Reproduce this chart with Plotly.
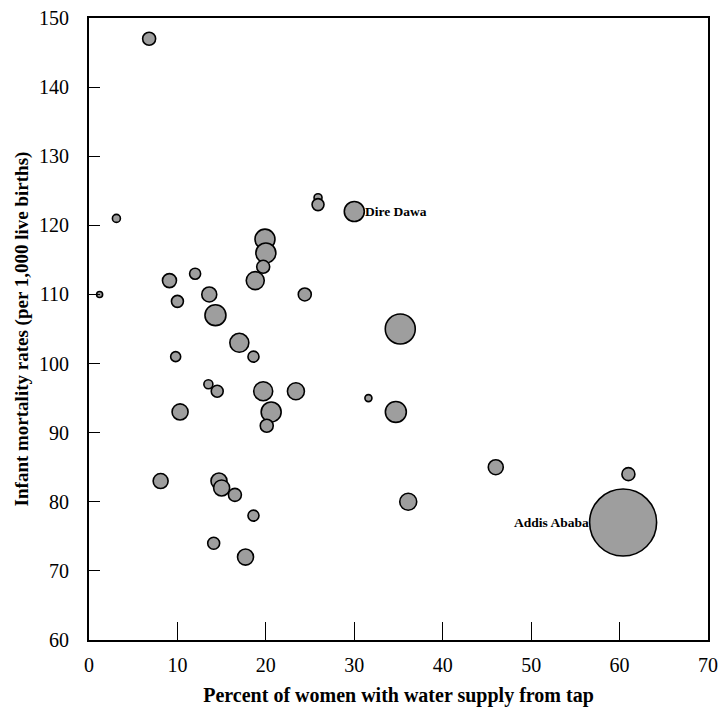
import plotly.graph_objects as go

# Percent of women with water supply from tap
water_tap = [6.8, 3.1, 1.2, 25.9, 25.9, 30.0, 19.9, 20.0, 19.7, 18.8,
             9.1, 12.0, 24.4, 13.6, 10.0, 14.3, 17.0, 9.8, 18.6, 13.5,
             14.5, 19.7, 23.4, 20.6, 20.1, 10.3, 8.1, 14.7, 15.0, 16.5,
             18.6, 14.1, 17.7, 35.2, 31.6, 34.7, 46.0, 36.1, 61.0, 60.4]
# Infant mortality rates (per 1,000 live births)
imr = [147, 121, 110, 124, 123, 122, 118, 116, 114, 112,
       112, 113, 110, 110, 109, 107, 103, 101, 101, 97,
       96, 96, 96, 93, 91, 93, 83, 83, 82, 81,
       78, 74, 72, 105, 95, 93, 85, 80, 84, 77]
# Bubble weight (estimated population, thousands)
weight = [79, 30, 17, 30, 67, 187, 187, 187, 79, 152,
          92, 57, 79, 105, 67, 206, 169, 47, 57, 38,
          67, 169, 135, 187, 79, 120, 105, 120, 120, 79,
          57, 67, 120, 421, 23, 206, 105, 135, 79, 2100]
names = [""] * 40
names[5] = "Dire Dawa"
names[39] = "Addis Ababa"

x_ticks = [0, 10, 20, 30, 40, 50, 60, 70]
y_ticks = [60, 70, 80, 90, 100, 110, 120, 130, 140, 150]

MAX_DIAM = 67
SIZEREF = 2.0 * max(weight) / MAX_DIAM ** 2

fig = go.Figure()
fig.add_trace(go.Scatter(
    x=water_tap, y=imr, mode="markers",
    marker=dict(size=weight, sizemode="area", sizeref=SIZEREF,
                color="#9e9e9e", opacity=1,
                line=dict(color="black", width=1.6)),
    hoverinfo="x+y", showlegend=False,
))

for xv, yv, w, n in zip(water_tap, imr, weight, names):
    if not n:
        continue
    r = MAX_DIAM * (w / max(weight)) ** 0.5 / 2
    if xv > 50:
        fig.add_annotation(x=xv, y=yv, text="<b>" + n + "</b>", showarrow=False,
                           xanchor="right", xshift=-r + 1,
                           font=dict(family="Liberation Serif", size=13.5, color="black"))
    else:
        fig.add_annotation(x=xv, y=yv, text="<b>" + n + "</b>", showarrow=False,
                           xanchor="left", xshift=r - 1,
                           font=dict(family="Liberation Serif", size=13.5, color="black"))

axis_common = dict(showline=True, linecolor="black", linewidth=2, mirror=True,
                   showgrid=False, zeroline=False, ticks="inside",
                   tickcolor="black", tickwidth=1, automargin=False,
                   tickfont=dict(family="Liberation Serif", size=20, color="black"))

fig.update_xaxes(range=[0, 70], tickvals=x_ticks, ticklen=18,
                 title=dict(text="<b>Percent of women with water supply from tap</b>",
                            font=dict(family="Liberation Serif", size=20, color="black"),
                            standoff=13),
                 ticklabelstandoff=6, **axis_common)
fig.update_yaxes(range=[60, 150], tickvals=y_ticks, ticklen=11,
                 title=dict(text="<b>Infant mortality rates (per 1,000 live births)</b>",
                            font=dict(family="Liberation Serif", size=19, color="black"),
                            standoff=5),
                 ticklabelstandoff=14, **axis_common)

fig.update_layout(width=721, height=710,
                  margin=dict(l=89, r=13, t=18, b=70, autoexpand=False),
                  plot_bgcolor="white", paper_bgcolor="white")

fig.write_html("out.html")
